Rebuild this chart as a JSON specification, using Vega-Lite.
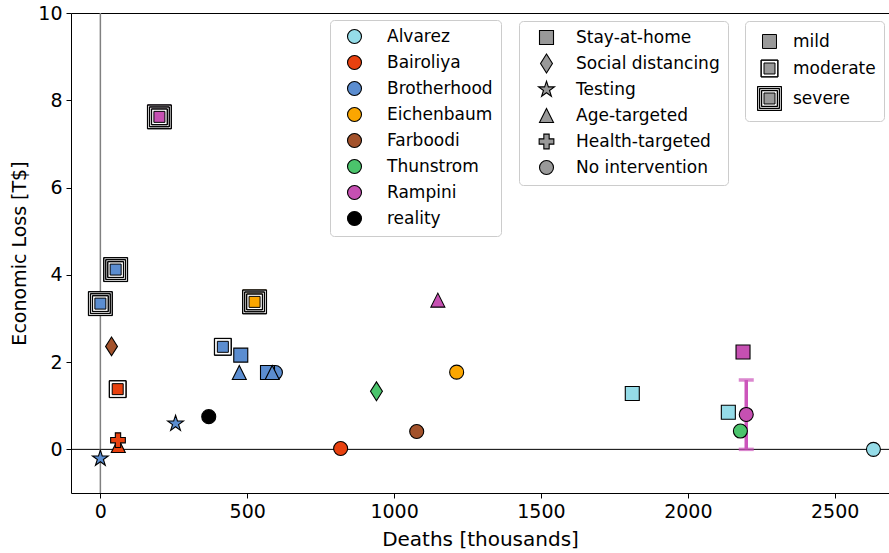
{
  "$schema": "https://vega.github.io/schema/vega-lite/v6.json",
  "width": 818,
  "height": 480,
  "autosize": {"type": "none"},
  "padding": {"left": 71, "top": 13, "right": 0, "bottom": 60},
  "background": "white",
  "data": {"values": [
    {"model": "Rampini", "intervention": "Stay-at-home", "severity": "severe", "deaths": 201, "loss": 7.62},
    {"model": "Brotherhood", "intervention": "Stay-at-home", "severity": "severe", "deaths": 52, "loss": 4.12},
    {"model": "Brotherhood", "intervention": "Stay-at-home", "severity": "severe", "deaths": 0, "loss": 3.34},
    {"model": "Eichenbaum", "intervention": "Stay-at-home", "severity": "severe", "deaths": 525, "loss": 3.38},
    {"model": "Bairoliya", "intervention": "Stay-at-home", "severity": "moderate", "deaths": 59, "loss": 1.38},
    {"model": "Brotherhood", "intervention": "Stay-at-home", "severity": "moderate", "deaths": 417, "loss": 2.35},
    {"model": "Farboodi", "intervention": "Social distancing", "severity": "mild", "deaths": 38, "loss": 2.36},
    {"model": "Bairoliya", "intervention": "Age-targeted", "severity": "mild", "deaths": 61, "loss": 0.09},
    {"model": "Bairoliya", "intervention": "Health-targeted", "severity": "mild", "deaths": 60, "loss": 0.21},
    {"model": "Brotherhood", "intervention": "Testing", "severity": "mild", "deaths": 0, "loss": -0.21},
    {"model": "Brotherhood", "intervention": "Testing", "severity": "mild", "deaths": 256, "loss": 0.59},
    {"model": "reality", "intervention": "No intervention", "severity": "mild", "deaths": 369, "loss": 0.75},
    {"model": "Brotherhood", "intervention": "Stay-at-home", "severity": "mild", "deaths": 478, "loss": 2.16},
    {"model": "Brotherhood", "intervention": "Age-targeted", "severity": "mild", "deaths": 473, "loss": 1.76},
    {"model": "Brotherhood", "intervention": "No intervention", "severity": "mild", "deaths": 596, "loss": 1.76},
    {"model": "Brotherhood", "intervention": "Stay-at-home", "severity": "mild", "deaths": 569, "loss": 1.76},
    {"model": "Brotherhood", "intervention": "Age-targeted", "severity": "mild", "deaths": 585, "loss": 1.76},
    {"model": "Rampini", "intervention": "Age-targeted", "severity": "mild", "deaths": 1149, "loss": 3.42},
    {"model": "Thunstrom", "intervention": "Social distancing", "severity": "mild", "deaths": 940, "loss": 1.33},
    {"model": "Eichenbaum", "intervention": "No intervention", "severity": "mild", "deaths": 1213, "loss": 1.77},
    {"model": "Farboodi", "intervention": "No intervention", "severity": "mild", "deaths": 1077, "loss": 0.41},
    {"model": "Bairoliya", "intervention": "No intervention", "severity": "mild", "deaths": 818, "loss": 0.02},
    {"model": "Alvarez", "intervention": "Stay-at-home", "severity": "mild", "deaths": 1811, "loss": 1.28},
    {"model": "Alvarez", "intervention": "Stay-at-home", "severity": "mild", "deaths": 2138, "loss": 0.85},
    {"model": "Rampini", "intervention": "Stay-at-home", "severity": "mild", "deaths": 2188, "loss": 2.23},
    {"model": "Thunstrom", "intervention": "No intervention", "severity": "mild", "deaths": 2179, "loss": 0.42},
    {"model": "Rampini", "intervention": "No intervention", "severity": "mild", "deaths": 2199, "loss": 0.80},
    {"model": "Alvarez", "intervention": "No intervention", "severity": "mild", "deaths": 2632, "loss": 0.0}
  ]},
  "layer": [
    {
      "data": {"values": [{"v": 0}]},
      "mark": {"type": "rule", "color": "black", "strokeWidth": 1},
      "encoding": {"y": {"field": "v", "type": "quantitative", "title": "Economic Loss [T$]"}}
    },
    {
      "data": {"values": [{"v": 0}]},
      "mark": {"type": "rule", "color": "#808080", "strokeWidth": 1.5},
      "encoding": {"x": {"field": "v", "type": "quantitative", "title": "Deaths [thousands]"}}
    },
    {
      "transform": [{"filter": "datum.severity !== 'mild'"}],
      "mark": {"type": "point", "filled": true, "fill": "white", "strokeWidth": 0, "size": 576, "opacity": 1},
      "encoding": {
        "x": {"field": "deaths", "type": "quantitative", "title": "Deaths [thousands]"},
        "y": {"field": "loss", "type": "quantitative", "title": "Economic Loss [T$]"},
        "shape": {"field": "severity", "type": "nominal", "legend": null,
          "scale": {"domain": ["moderate", "severe"], "range": ["M-0.708,-0.708L0.708,-0.708L0.708,0.708L-0.708,0.708Z", "M-1,-1L1,-1L1,1L-1,1Z"]}}
      }
    },
    {
      "data": {"values": [{"deaths": 2199, "lo": 0, "hi": 1.59}]},
      "mark": {"type": "errorbar", "ticks": true, "thickness": 3.5, "size": 15, "color": "#cc55bb"},
      "encoding": {
        "x": {"field": "deaths", "type": "quantitative", "title": "Deaths [thousands]"},
        "y": {"field": "lo", "type": "quantitative", "title": "Economic Loss [T$]"},
        "y2": {"field": "hi"}
      }
    },
    {
      "transform": [{"filter": "datum.severity !== 'mild'"}],
      "mark": {"type": "point", "filled": true, "stroke": "black", "strokeWidth": 1, "size": 576, "opacity": 1},
      "encoding": {
        "x": {"field": "deaths", "type": "quantitative", "title": "Deaths [thousands]"},
        "y": {"field": "loss", "type": "quantitative", "title": "Economic Loss [T$]"},
        "fill": {"field": "model", "type": "nominal"},
        "shape": {"field": "severity", "type": "nominal",
          "scale": {"domain": ["mild", "moderate", "severe"], "range": [
            "M-0.583,-0.583L0.583,-0.583L0.583,0.583L-0.583,0.583Z",
            "M-0.708,-0.708L0.708,-0.708L0.708,0.708L-0.708,0.708ZM-0.688,-0.688L-0.688,0.688L0.688,0.688L0.688,-0.688ZM-0.458,-0.458L0.458,-0.458L0.458,0.458L-0.458,0.458Z",
            "M-1,-1L1,-1L1,1L-1,1ZM-0.98,-0.98L-0.98,0.98L0.98,0.98L0.98,-0.98ZM-0.833,-0.833L0.833,-0.833L0.833,0.833L-0.833,0.833ZM-0.813,-0.813L-0.813,0.813L0.813,0.813L0.813,-0.813ZM-0.667,-0.667L0.667,-0.667L0.667,0.667L-0.667,0.667ZM-0.647,-0.647L-0.647,0.647L0.647,0.647L0.647,-0.647ZM-0.458,-0.458L0.458,-0.458L0.458,0.458L-0.458,0.458Z"
          ]},
          "legend": {"title": null, "orient": "none", "legendX": 674, "legendY": 8, "symbolSize": 576, "symbolFillColor": "#999999", "symbolStrokeColor": "black", "symbolStrokeWidth": 1, "symbolOffset": 4, "labelOffset": 11, "rowPadding": 5, "padding": 8, "labelFontSize": 17, "fillColor": "white", "strokeColor": "#cccccc", "cornerRadius": 4}
        }
      }
    },
    {
      "transform": [{"filter": "datum.severity === 'mild'"}],
      "mark": {"type": "point", "filled": true, "stroke": "black", "strokeWidth": 1.1, "size": 196, "opacity": 1},
      "encoding": {
        "x": {"field": "deaths", "type": "quantitative", "title": "Deaths [thousands]",
          "scale": {"domain": [-100, 2685], "nice": false, "zero": false},
          "axis": {"values": [0, 500, 1000, 1500, 2000, 2500], "format": "d", "title": "Deaths [thousands]", "titleFontSize": 20}},
        "y": {"field": "loss", "type": "quantitative", "title": "Economic Loss [T$]",
          "scale": {"domain": [-1, 10], "nice": false, "zero": false},
          "axis": {"values": [0, 2, 4, 6, 8, 10], "title": "Economic Loss [T$]", "titleFontSize": 19}},
        "fill": {"field": "model", "type": "nominal",
          "scale": {"domain": ["Alvarez", "Bairoliya", "Brotherhood", "Eichenbaum", "Farboodi", "Thunstrom", "Rampini", "reality"],
            "range": ["#95dce8", "#e8410f", "#5b8dd0", "#fba600", "#a3522b", "#4bc46c", "#c650b2", "#000000"]},
          "legend": {"title": null, "orient": "none", "legendX": 259, "legendY": 7, "symbolType": "circle", "symbolSize": 196, "symbolStrokeColor": "black", "symbolStrokeWidth": 1.1, "symbolOffset": 8, "labelOffset": 24, "rowPadding": 7, "padding": 8, "labelFontSize": 17, "fillColor": "white", "strokeColor": "#cccccc", "cornerRadius": 4}},
        "shape": {"field": "intervention", "type": "nominal",
          "scale": {"domain": ["Stay-at-home", "Social distancing", "Testing", "Age-targeted", "Health-targeted", "No intervention"],
            "range": ["square", "M0,-1.35L0.85,0L0,1.35L-0.85,0Z", "M0,-1.19L0.267,-0.368L1.132,-0.368L0.432,0.14L0.699,0.963L0,0.455L-0.699,0.963L-0.432,0.14L-1.132,-0.368L-0.267,-0.368Z", "M0,-1L1,1L-1,1Z", "M-0.38,-1.05L0.38,-1.05L0.38,-0.38L1.05,-0.38L1.05,0.38L0.38,0.38L0.38,1.05L-0.38,1.05L-0.38,0.38L-1.05,0.38L-1.05,-0.38L-0.38,-0.38Z", "circle"]},
          "legend": {"title": null, "orient": "none", "legendX": 448, "legendY": 8, "symbolSize": 196, "symbolFillColor": "#999999", "symbolStrokeColor": "black", "symbolStrokeWidth": 1.1, "symbolOffset": 11, "labelOffset": 21, "rowPadding": 1, "gridAlign": "all", "padding": 8, "labelFontSize": 17, "fillColor": "white", "strokeColor": "#cccccc", "cornerRadius": 4}}
      }
    }
  ],
  "resolve": {"scale": {"shape": "independent"}},
  "config": {
    "font": "DejaVu Sans",
    "view": {"stroke": "black", "strokeWidth": 1},
    "axis": {"grid": false, "domain": false, "tickColor": "black", "tickSize": 5, "labelColor": "black", "labelFont": "DejaVu Sans", "labelFontSize": 19, "labelPadding": 4, "titleFont": "DejaVu Sans", "titleFontSize": 18, "titleFontWeight": "normal", "titleColor": "black", "titlePadding": 8},
    "legend": {"labelFont": "DejaVu Sans", "labelColor": "black", "labelLimit": 400}
  }
}
